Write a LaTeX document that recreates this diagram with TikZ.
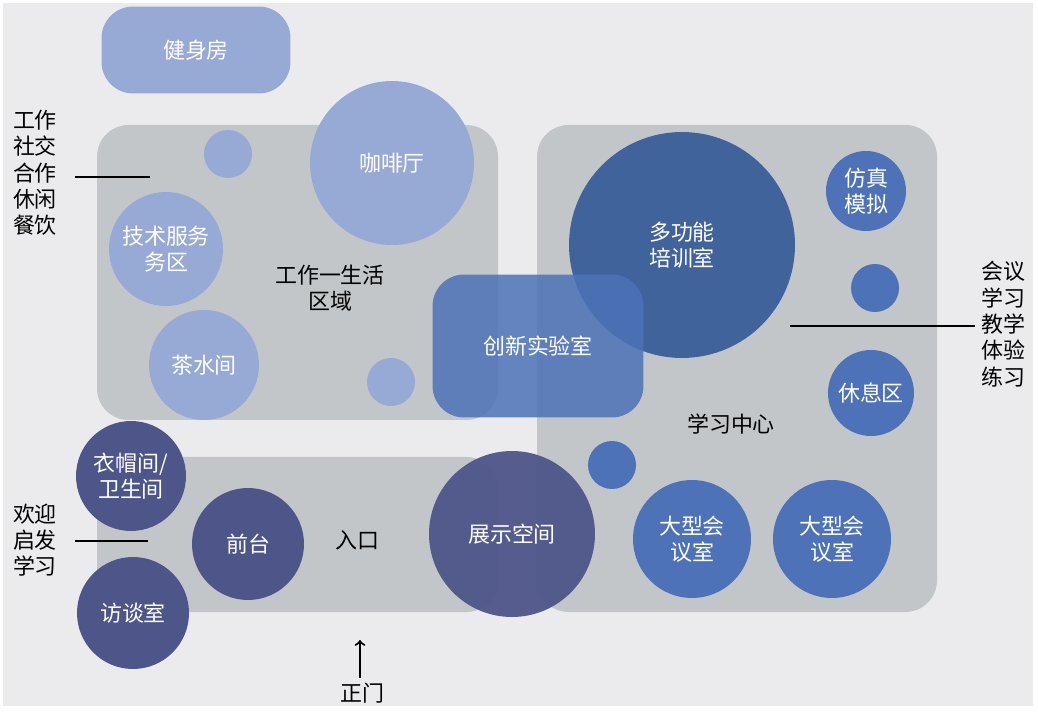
\documentclass[tikz,border=0pt]{standalone}
\usepackage{fontspec}
\setmainfont{Noto Sans CJK SC}
\definecolor{bgc}{HTML}{EBEBED}
\definecolor{zone}{HTML}{C3C6C9}
\definecolor{lite}{HTML}{97A9D5}
\definecolor{mid}{HTML}{4D72B8}
\definecolor{deep}{HTML}{3A5E9A}
\definecolor{plum}{HTML}{4E5589}
\tikzset{
  zonebox/.style={fill=zone,rounded corners=18},
  ball/.style={circle,inner sep=0pt,text=white,align=center,font=\fontsize{12.5}{15}\selectfont},
  tag/.style={align=center,font=\fontsize{12.5}{15}\selectfont,inner sep=0pt},
  side/.style={align=center,font=\fontsize{12.5}{15}\selectfont,inner sep=0pt}
}
\begin{document}
\begin{tikzpicture}[x=0.02cm,y=-0.02cm]
\useasboundingbox (0,0) rectangle (1038,712);
\fill[white] (0,0) rectangle (1038,712);
\fill[bgc] (3,3) rectangle (1033,706);
% zones
\fill[zonebox] (97,125) rectangle (498,420);
\fill[zonebox] (537,125) rectangle (937,612);
\fill[zonebox] (97,457) rectangle (498,612);
\node[fill=lite,rounded corners=18,minimum width=3.78cm,minimum height=1.74cm,text=white,font=\fontsize{12.5}{15}\selectfont] (gym) at (196,50) {健身房};
% work zone
\node[ball,fill=lite,minimum size=0.96cm] (w1) at (228,154) {};
\node[ball,fill=lite,minimum size=3.28cm] (cafe) at (392,163) {咖啡厅};
\node[ball,fill=lite,minimum size=2.28cm] (tech) at (166,249) {技术服务\\务区};
\node[ball,fill=lite,minimum size=2.2cm] (tea) at (204,365) {茶水间};
\node[ball,fill=lite,minimum size=0.96cm] (w2) at (391,382) {};
\node[tag] (work) at (330,288) {工作一生活\\区域};
% study center
\node[ball,fill=deep,fill opacity=0.95,text opacity=1,minimum size=4.52cm] (multi) at (682,245) {多功能\\培训室};
\node[fill=mid,fill opacity=0.85,text opacity=1,rounded corners=18,minimum width=4.22cm,minimum height=2.86cm,text=white,font=\fontsize{12.5}{15}\selectfont] (lab) at (538,346) {创新实验室};
\node[ball,fill=mid,minimum size=1.6cm] (sim) at (866,191) {仿真\\模拟};
\node[ball,fill=mid,minimum size=0.96cm] (s1) at (875,288) {};
\node[ball,fill=mid,minimum size=1.72cm] (rest) at (871,393) {休息区};
\node[ball,fill=mid,minimum size=0.96cm] (s2) at (612,465) {};
\node[ball,fill=mid,minimum size=2.36cm] (big1) at (692,539) {大型会\\议室};
\node[ball,fill=mid,minimum size=2.36cm] (big2) at (832,539) {大型会\\议室};
\node[tag] (study) at (731,424) {学习中心};
% entrance
\node[ball,fill=plum,minimum size=2.2cm] (cloak) at (131,476) {衣帽间/\\卫生间};
\node[ball,fill=plum,minimum size=2.24cm] (desk) at (248,544) {前台};
\node[ball,fill=plum,minimum size=2.24cm] (talk) at (133,613) {访谈室};
\node[ball,fill=plum,fill opacity=0.95,text opacity=1,minimum size=3.32cm] (show) at (512,534) {展示空间};
\node[tag] (entry) at (357,540) {入口};
% side labels
\node[side] (lwork) at (35,173) {工作\\社交\\合作\\休闲\\餐饮};
\coordinate (lw) at (150,177);
\draw[line width=1pt] (75,177) -- (lw);
\node[side] (lwel) at (35,540) {欢迎\\启发\\学习};
\coordinate (le) at (148,541);
\draw[line width=1pt] (75,541) -- (le);
\node[side] (rstudy) at (1003,324) {会议\\学习\\教学\\体验\\练习};
\coordinate (rs) at (790,326);
\draw[line width=1pt] (rs) -- (975,326);
\node[tag] (gate) at (362,693) {正门};
\draw[->,line width=1.2pt] (360,678) -- (360,640);
\end{tikzpicture}
\end{document}
